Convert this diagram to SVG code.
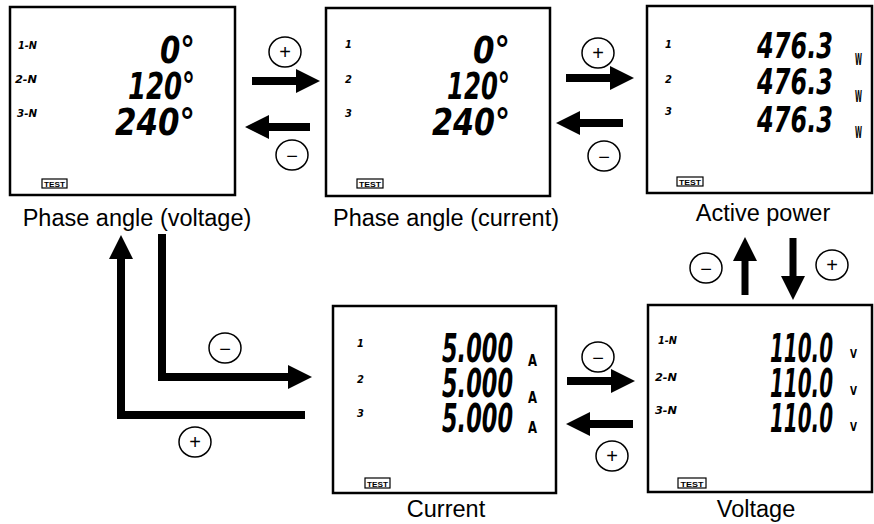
<svg xmlns="http://www.w3.org/2000/svg" width="874" height="524" viewBox="0 0 874 524">
<style>
.box{fill:#fff;stroke:#000;stroke-width:2.5}
.lbl{font-family:"Liberation Sans",Arial,sans-serif;font-size:23.5px;text-anchor:middle;fill:#000}
.seg{font-family:"DejaVu Sans Condensed","DejaVu Sans",sans-serif;font-weight:bold;font-style:italic;fill:#000}
.ph{font-family:"DejaVu Sans Condensed","DejaVu Sans",sans-serif;font-weight:bold;font-style:italic;font-size:11px;fill:#000}
.unit{font-family:"DejaVu Sans Condensed","DejaVu Sans",sans-serif;font-weight:bold;fill:#000}
.tbox{fill:#fff;stroke:#000;stroke-width:1.2}
.ttxt{font-family:"Liberation Sans",Arial,sans-serif;font-weight:bold;font-size:8px;text-anchor:middle;fill:#000}
.sh{fill:none;stroke:#000;stroke-width:8;stroke-linejoin:miter}
.sh7{fill:none;stroke:#000;stroke-width:7}
.cir{fill:#fff;stroke:#000;stroke-width:1.5}
.sign{font-family:"Liberation Sans",Arial,sans-serif;font-size:20px;text-anchor:middle;fill:#000}
</style>
<defs>
<marker id="ah" markerUnits="userSpaceOnUse" markerWidth="24" markerHeight="24" viewBox="0 0 22 22" refX="0" refY="11" orient="auto">
<path d="M0,0 L22,11 L0,22 z" fill="#000"/>
</marker>
</defs>

<g id="node-phase-voltage">
<rect class="box" x="10" y="7" width="225" height="188"/>
<text class="ph" x="18" y="49" textLength="19" lengthAdjust="spacingAndGlyphs">1-N</text>
<text class="ph" x="15" y="83" textLength="22" lengthAdjust="spacingAndGlyphs">2-N</text>
<text class="ph" x="17" y="117" textLength="20" lengthAdjust="spacingAndGlyphs">3-N</text>
<text class="seg" font-size="38" x="160" y="63" textLength="35" lengthAdjust="spacingAndGlyphs">0°</text>
<text class="seg" font-size="38" x="128" y="99" textLength="67" lengthAdjust="spacingAndGlyphs">120°</text>
<text class="seg" font-size="38" x="115" y="135" textLength="80" lengthAdjust="spacingAndGlyphs">240°</text>
<rect class="tbox" x="42" y="179" width="25" height="9"/>
<text class="ttxt" x="54.5" y="187" textLength="21" lengthAdjust="spacingAndGlyphs">TEST</text>
<text class="lbl" x="137" y="226">Phase angle (voltage)</text>
</g>

<g id="node-phase-current">
<rect class="box" x="326" y="8" width="224" height="188"/>
<text class="ph" font-size="13" x="345" y="48">1</text>
<text class="ph" font-size="13" x="345" y="83">2</text>
<text class="ph" font-size="13" x="345" y="117">3</text>
<text class="seg" font-size="38" x="473" y="63" textLength="37" lengthAdjust="spacingAndGlyphs">0°</text>
<text class="seg" font-size="38" x="447" y="99" textLength="63" lengthAdjust="spacingAndGlyphs">120°</text>
<text class="seg" font-size="38" x="432" y="135" textLength="78" lengthAdjust="spacingAndGlyphs">240°</text>
<rect class="tbox" x="357" y="179" width="26" height="9"/>
<text class="ttxt" x="370" y="187" textLength="22" lengthAdjust="spacingAndGlyphs">TEST</text>
<text class="lbl" x="446" y="226">Phase angle (current)</text>
</g>

<g id="node-active-power">
<rect class="box" x="647" y="6" width="225" height="187"/>
<text class="ph" font-size="13" x="665" y="48">1</text>
<text class="ph" font-size="13" x="665" y="83">2</text>
<text class="ph" font-size="13" x="665" y="115">3</text>
<text class="seg" font-size="35" x="757" y="58" textLength="76" lengthAdjust="spacingAndGlyphs">476.3</text>
<text class="seg" font-size="35" x="757" y="94" textLength="76" lengthAdjust="spacingAndGlyphs">476.3</text>
<text class="seg" font-size="35" x="757" y="132" textLength="76" lengthAdjust="spacingAndGlyphs">476.3</text>
<text class="unit" font-size="15" x="855" y="65" textLength="7" lengthAdjust="spacingAndGlyphs">W</text>
<text class="unit" font-size="15" x="855" y="102" textLength="7" lengthAdjust="spacingAndGlyphs">W</text>
<text class="unit" font-size="15" x="855" y="138" textLength="7" lengthAdjust="spacingAndGlyphs">W</text>
<rect class="tbox" x="677" y="177" width="26" height="9"/>
<text class="ttxt" x="690" y="185" textLength="22" lengthAdjust="spacingAndGlyphs">TEST</text>
<text class="lbl" x="763" y="221">Active power</text>
</g>

<g id="node-current">
<rect class="box" x="333" y="306" width="223" height="187"/>
<text class="ph" font-size="13" x="357" y="347">1</text>
<text class="ph" font-size="13" x="357" y="383">2</text>
<text class="ph" font-size="13" x="357" y="417">3</text>
<text class="seg" font-size="39" x="442" y="362" textLength="71" lengthAdjust="spacingAndGlyphs">5.000</text>
<text class="seg" font-size="39" x="442" y="397" textLength="71" lengthAdjust="spacingAndGlyphs">5.000</text>
<text class="seg" font-size="39" x="442" y="432" textLength="71" lengthAdjust="spacingAndGlyphs">5.000</text>
<text class="unit" font-size="15" x="528" y="366" textLength="9" lengthAdjust="spacingAndGlyphs">A</text>
<text class="unit" font-size="15" x="528" y="403" textLength="9" lengthAdjust="spacingAndGlyphs">A</text>
<text class="unit" font-size="15" x="528" y="433" textLength="9" lengthAdjust="spacingAndGlyphs">A</text>
<rect class="tbox" x="365" y="478" width="25" height="10"/>
<text class="ttxt" x="377.5" y="486.5" textLength="21" lengthAdjust="spacingAndGlyphs">TEST</text>
<text class="lbl" x="446" y="517">Current</text>
</g>

<g id="node-voltage">
<rect class="box" x="648" y="305" width="224" height="187"/>
<text class="ph" x="658" y="344" textLength="19" lengthAdjust="spacingAndGlyphs">1-N</text>
<text class="ph" x="655" y="381" textLength="22" lengthAdjust="spacingAndGlyphs">2-N</text>
<text class="ph" x="655" y="414" textLength="22" lengthAdjust="spacingAndGlyphs">3-N</text>
<text class="seg" font-size="39" x="770" y="362" textLength="63" lengthAdjust="spacingAndGlyphs">110.0</text>
<text class="seg" font-size="39" x="770" y="397" textLength="63" lengthAdjust="spacingAndGlyphs">110.0</text>
<text class="seg" font-size="39" x="770" y="432" textLength="63" lengthAdjust="spacingAndGlyphs">110.0</text>
<text class="unit" font-size="13" x="850" y="358" textLength="7" lengthAdjust="spacingAndGlyphs">V</text>
<text class="unit" font-size="13" x="850" y="395" textLength="7" lengthAdjust="spacingAndGlyphs">V</text>
<text class="unit" font-size="13" x="850" y="431" textLength="7" lengthAdjust="spacingAndGlyphs">V</text>
<rect class="tbox" x="678" y="478" width="28" height="10"/>
<text class="ttxt" x="692" y="486.5" textLength="23" lengthAdjust="spacingAndGlyphs">TEST</text>
<text class="lbl" x="756" y="517">Voltage</text>
</g>

<g id="connectors">
<path class="sh" d="M252,81 H296" marker-end="url(#ah)"/>
<path class="sh" d="M310,127 H269" marker-end="url(#ah)"/>
<path class="sh" d="M566,78 H610" marker-end="url(#ah)"/>
<path class="sh" d="M623,123 H580" marker-end="url(#ah)"/>
<path class="sh7" d="M793,238 V276" marker-end="url(#ah)"/>
<path class="sh7" d="M745,295 V261" marker-end="url(#ah)"/>
<path class="sh" d="M567,381 H611" marker-end="url(#ah)"/>
<path class="sh" d="M633,424 H590" marker-end="url(#ah)"/>
<path class="sh" d="M162,234 V377 H288" marker-end="url(#ah)"/>
<path class="sh" d="M305,415 H121 V259" marker-end="url(#ah)"/>
</g>

<g id="signs">
<ellipse class="cir" cx="285" cy="52" rx="16" ry="15"/><text class="sign" x="285" y="59">+</text>
<ellipse class="cir" cx="292" cy="155" rx="16" ry="15"/><text class="sign" x="292" y="163">−</text>
<ellipse class="cir" cx="598" cy="53" rx="16" ry="15"/><text class="sign" x="598" y="60">+</text>
<ellipse class="cir" cx="604" cy="156" rx="16" ry="15"/><text class="sign" x="604" y="164">−</text>
<ellipse class="cir" cx="706" cy="268" rx="16" ry="15"/><text class="sign" x="706" y="276">−</text>
<ellipse class="cir" cx="832" cy="265" rx="16" ry="15"/><text class="sign" x="832" y="272">+</text>
<ellipse class="cir" cx="598" cy="357" rx="16" ry="15"/><text class="sign" x="598" y="365">−</text>
<ellipse class="cir" cx="612" cy="456" rx="16" ry="15"/><text class="sign" x="612" y="463">+</text>
<ellipse class="cir" cx="225" cy="348" rx="16" ry="15"/><text class="sign" x="225" y="356">−</text>
<ellipse class="cir" cx="195" cy="442" rx="16" ry="15"/><text class="sign" x="195" y="449">+</text>
</g>
</svg>
